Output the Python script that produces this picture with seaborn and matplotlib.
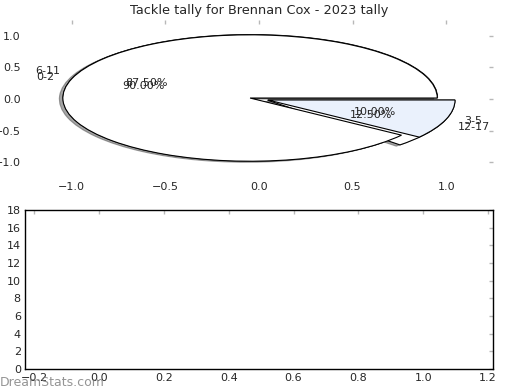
import numpy as np
import matplotlib
matplotlib.use("Agg")
import matplotlib.pyplot as plt
import seaborn as sns

# tackle tallies by bucket (two overlaid pies)
labels_a = ["6-11", "12-17"]
values_a = [7, 1]
labels_b = ["0-2", "3-5"]
values_b = [9, 1]

title = "Tackle tally for Brennan Cox - 2023 tally"
bar_ylim = (0, 18)
bar_xlim = (-0.228, 1.215)

sns.set_style("white")
plt.rcParams["font.family"] = ["DejaVu Sans"]

fig = plt.figure(figsize=(5.2, 3.9), dpi=100)
ax_pie = fig.add_axes([0.048, 0.5436, 0.9, 0.4051])
ax_bar = fig.add_axes([0.048, 0.0538, 0.9, 0.4077])

edge = {"edgecolor": "black", "linewidth": 0.8}

# first pie has the drop shadow (old-style small offset)
ax_pie.pie(values_a, labels=labels_a, autopct="%.2f%%", explode=[0.05, 0.05],
           shadow={"ox": -0.0144, "oy": -0.0144}, colors=["white", "white"],
           wedgeprops=edge, frame=True, textprops={"fontsize": 8})
ax_pie.pie(values_b, labels=labels_b, autopct="%.2f%%", explode=[0.05, 0.05],
           colors=["white", "#eaf1fc"], wedgeprops=edge, frame=True,
           textprops={"fontsize": 8})

ax_pie.set_aspect("auto")
ax_pie.set_xlim(-1.25, 1.25)
ax_pie.set_ylim(-1.25, 1.25)
ax_pie.set_xticks(np.arange(-1.0, 1.01, 0.5))
ax_pie.set_yticks(np.arange(-1.0, 1.01, 0.5))
ax_pie.set_frame_on(False)
ax_pie.set_title(title, fontsize=9.3, pad=4)

ax_bar.set_xlim(*bar_xlim)
ax_bar.set_ylim(*bar_ylim)
ax_bar.set_xticks(np.arange(-0.2, 1.21, 0.2))
ax_bar.set_yticks(np.arange(0, 19, 2))
for sp in ax_bar.spines.values():
    sp.set_color("black")
    sp.set_linewidth(1.0)

for ax in (ax_pie, ax_bar):
    ax.tick_params(direction="in", length=3, width=1, color="#b8b8b8",
                   labelsize=8, top=True, right=True, pad=3)

fig.text(0.0, 0.02, "DreamStats.com", fontsize=9, color="#7a7a7a", alpha=0.8,
         ha="left", va="center")

fig.savefig("out.png", dpi=100)
